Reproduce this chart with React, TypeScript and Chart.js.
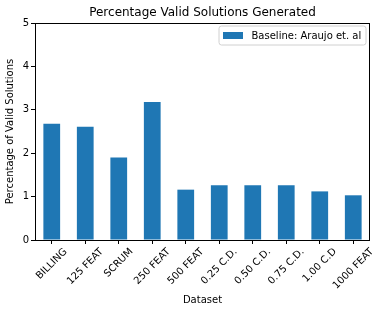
import React, { useEffect, useRef } from "react";
import { Chart, registerables } from "chart.js";

Chart.register(...registerables);

const categories = ["BILLING", "125 FEAT", "SCRUM", "250 FEAT", "500 FEAT", "0.25 C.D.", "0.50 C.D.", "0.75 C.D.", "1.00 C.D", "1000 FEAT"];
const baselineValues = [2.68, 2.61, 1.9, 3.18, 1.16, 1.26, 1.26, 1.26, 1.12, 1.03];
const seriesLabel = "Baseline: Araujo et. al";
const yTicks = [0, 1, 2, 3, 4, 5];
const titleText = "Percentage Valid Solutions Generated";
const xTitle = "Dataset";
const yTitle = "Percentage of Valid Solutions";

const FONT = "DejaVu Sans";
const BLUE = "#1f77b4";

const decorPlugin = {
  id: "decor",
  afterDraw(chart: any) {
    const { ctx, chartArea } = chart;
    const { left, right, top, bottom } = chartArea;
    ctx.save();
    // frame
    ctx.strokeStyle = "#000";
    ctx.lineWidth = 1;
    ctx.strokeRect(Math.round(left) + 0.5, Math.round(top) + 0.5, Math.round(right - left) - 1, Math.round(bottom - top));
    // title
    ctx.fillStyle = "#000";
    ctx.font = `12px '${FONT}'`;
    ctx.textAlign = "center";
    ctx.textBaseline = "middle";
    ctx.fillText(titleText, (left + right) / 2, 13);
    // x labels
    const xs = chart.scales.x;
    ctx.font = `10px '${FONT}'`;
    const h = 11.5;
    categories.forEach((lab, i) => {
      const x = xs.getPixelForTick(i);
      const w = ctx.measureText(lab).width;
      const half = ((w + h) * Math.SQRT1_2) / 2;
      ctx.save();
      ctx.translate(x, bottom + 6 + half);
      ctx.rotate(-Math.PI / 4);
      ctx.textAlign = "center";
      ctx.textBaseline = "middle";
      ctx.fillText(lab, 0, 0);
      ctx.restore();
    });
    // x title
    ctx.textAlign = "center";
    ctx.textBaseline = "middle";
    ctx.fillText(xTitle, (left + right) / 2, 300);
    // y title
    ctx.save();
    ctx.translate(10, (top + bottom) / 2);
    ctx.rotate(-Math.PI / 2);
    ctx.fillText(yTitle, 0, 0);
    ctx.restore();
    // legend
    const lx = 219, ly = 26, lw = 147, lh = 19;
    ctx.beginPath();
    const r = 2.5;
    ctx.moveTo(lx + r, ly);
    ctx.lineTo(lx + lw - r, ly);
    ctx.arcTo(lx + lw, ly, lx + lw, ly + r, r);
    ctx.lineTo(lx + lw, ly + lh - r);
    ctx.arcTo(lx + lw, ly + lh, lx + lw - r, ly + lh, r);
    ctx.lineTo(lx + r, ly + lh);
    ctx.arcTo(lx, ly + lh, lx, ly + lh - r, r);
    ctx.lineTo(lx, ly + r);
    ctx.arcTo(lx, ly, lx + r, ly, r);
    ctx.closePath();
    ctx.fillStyle = "rgba(255,255,255,0.8)";
    ctx.fill();
    ctx.strokeStyle = "#d0d0d0";
    ctx.lineWidth = 1;
    ctx.stroke();
    ctx.fillStyle = BLUE;
    ctx.fillRect(223, 32, 20, 7);
    ctx.fillStyle = "#000";
    ctx.textAlign = "left";
    ctx.textBaseline = "middle";
    ctx.fillText(chart.data.datasets[0].label, 251.5, 36);
    ctx.restore();
  },
};

export default function App() {
  const ref = useRef<HTMLCanvasElement>(null);
  useEffect(() => {
    document.body.style.margin = "0";
    const chart = new Chart(ref.current!, {
      type: "bar",
      data: {
        labels: categories,
        datasets: [
          {
            label: seriesLabel,
            data: baselineValues,
            backgroundColor: BLUE,
            borderWidth: 0,
            barPercentage: 0.5,
            categoryPercentage: 1,
          },
        ],
      },
      options: {
        animation: false,
        responsive: false,
        devicePixelRatio: 1,
        layout: { padding: { top: 23, right: 11, left: 0, bottom: 0 } },
        plugins: { legend: { display: false }, title: { display: false }, tooltip: { enabled: false } },
        scales: {
          x: {
            grid: { display: true, drawOnChartArea: false, offset: false, tickLength: 4, color: "#000", tickColor: "#000" },
            border: { display: false },
            ticks: { display: false },
            afterFit: (s: any) => { s.height = 72; },
          },
          y: {
            min: 0,
            max: 5,
            afterBuildTicks: (s: any) => { s.ticks = yTicks.map((v) => ({ value: v })); },
            grid: { display: true, drawOnChartArea: false, tickLength: 4, color: "#000", tickColor: "#000" },
            border: { display: false },
            ticks: { color: "#000", font: { family: FONT, size: 10 }, padding: 2 },
            afterFit: (s: any) => { s.width = 35; },
          },
        },
      },
      plugins: [decorPlugin],
    });
    return () => chart.destroy();
  }, []);
  return (
    <div style={{ width: 381, height: 312, position: "relative", background: "#fff" }}>
      <canvas ref={ref} width={381} height={312} style={{ width: 381, height: 312 }} />
    </div>
  );
}
